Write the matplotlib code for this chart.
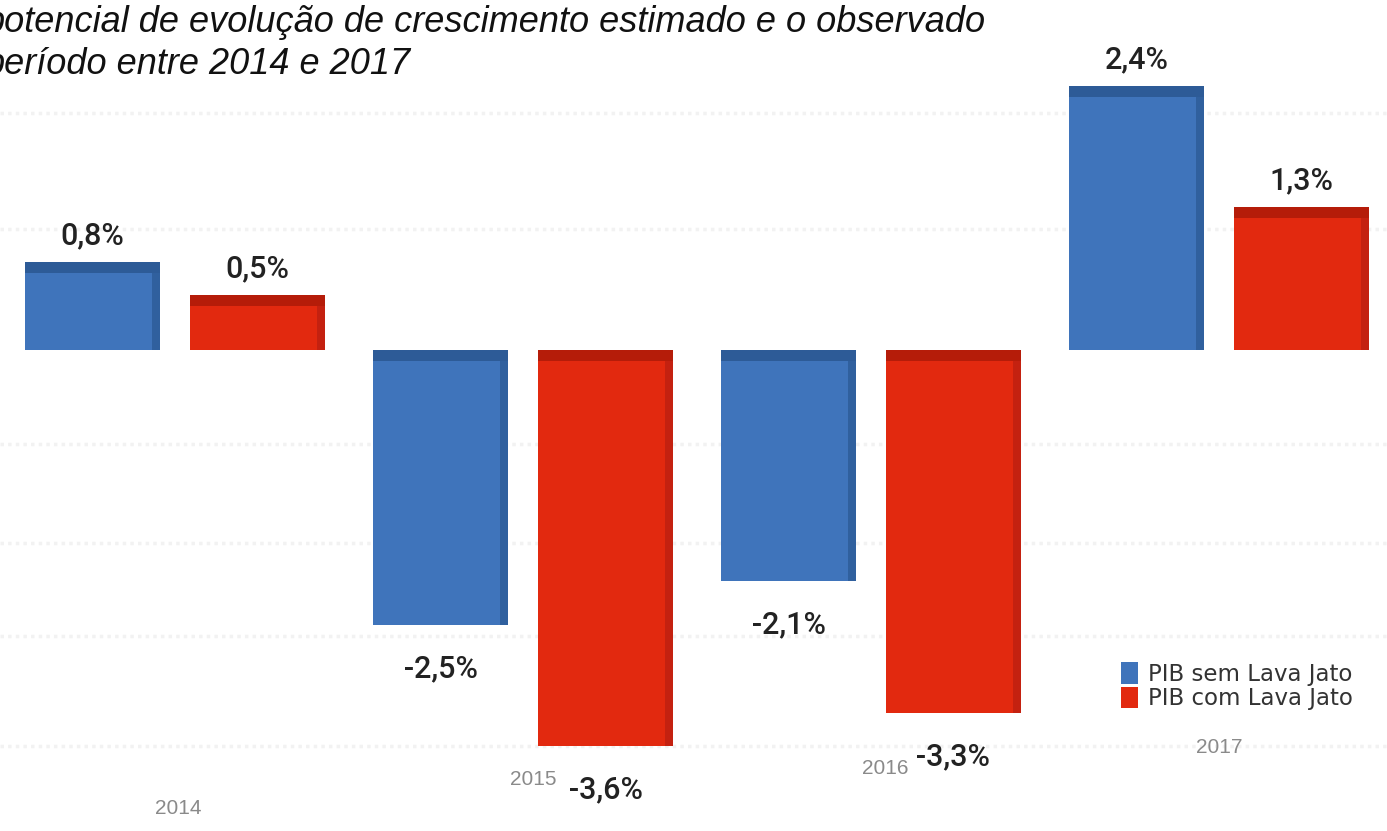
import matplotlib
matplotlib.use("Agg")
import matplotlib.pyplot as plt
from matplotlib.patches import Rectangle, Patch

# Data
years = ["2014", "2015", "2016", "2017"]
pib_sem = [0.8, -2.5, -2.1, 2.4]
pib_com = [0.5, -3.6, -3.3, 1.3]
labels_sem = ["0,8%", "-2,5%", "-2,1%", "2,4%"]
labels_com = ["0,5%", "-3,6%", "-3,3%", "1,3%"]
series_names = ["PIB sem Lava Jato", "PIB com Lava Jato"]
title_lines = ["potencial de evolução de crescimento estimado e o observado",
               "período entre 2014 e 2017"]

W, H, DPI = 1387, 831, 100
fig = plt.figure(figsize=(W / DPI, H / DPI), dpi=DPI)
fig.patch.set_facecolor("white")
ax = fig.add_axes([0, 0, 1, 1])

XMIN, XMAX = -0.503, 3.483
YMIN, YMAX = -4.37, 3.18
ax.set_xlim(XMIN, XMAX)
ax.set_ylim(YMIN, YMAX)
ax.axis("off")

# size of one pixel in data units
px_x = (XMAX - XMIN) / W
px_y = (YMAX - YMIN) / H

# faint dotted background guides
for gy in [2.15, 1.1, -0.85, -1.75, -2.6, -3.6]:
    ax.axhline(gy, color="#f2f2f2", lw=2.5, ls=(0, (1, 1.2)), zorder=0)

blue, blue_dark, blue_side = "#3f74bb", "#2d5b97", "#30609e"
red, red_dark, red_side = "#e2290f", "#b51c09", "#c42110"

width = 0.39
offset = 0.237


def bar3d(xc, v, face, top, side):
    x0 = xc - width / 2
    ax.add_patch(Rectangle((x0, 0), width, v, facecolor=face,
                           edgecolor="none", zorder=2))
    # right side face
    ax.add_patch(Rectangle((x0 + width - 8 * px_x, 0), 8 * px_x, v,
                           facecolor=side, edgecolor="none", zorder=2.2))
    # top face
    ytop = max(v, 0)
    ax.add_patch(Rectangle((x0, ytop - 11 * px_y), width, 11 * px_y,
                           facecolor=top, edgecolor="none", zorder=2.3))


for i in range(len(years)):
    bar3d(i - offset, pib_sem[i], blue, blue_dark, blue_side)
    bar3d(i + offset, pib_com[i], red, red_dark, red_side)

# value labels
for i in range(len(years)):
    for xc, v, lab in [(i - offset, pib_sem[i], labels_sem[i]),
                       (i + offset, pib_com[i], labels_com[i])]:
        dy = 26 if v > 0 else -44
        ax.annotate(lab, (xc, v), xytext=(0, dy), textcoords="offset pixels",
                    ha="center", va="center", fontsize=22,
                    fontfamily="Roboto", fontweight="medium",
                    color="#222222", zorder=5)

# year labels, staggered along the receding floor
year_y = [-4.17, -3.9, -3.8, -3.61]
year_dx = [0.01, 0.03, 0.04, 0.0]
for i, yr in enumerate(years):
    ax.text(i + year_dx[i], year_y[i], yr, ha="center",
            va="center", fontsize=15, fontfamily="Liberation Sans",
            color="#8a8a8a", zorder=5)

# title (left edge runs off the canvas)
for k, line in enumerate(title_lines):
    fig.text(-15 / W, 1 - (22 + 42 * k) / H, line, ha="left", va="center",
             fontsize=26, fontstyle="italic", fontfamily="Liberation Sans",
             color="#111111")

handles = [Patch(facecolor=blue, edgecolor="none"),
           Patch(facecolor=red, edgecolor="none")]
leg = fig.legend(handles, series_names, loc="upper left",
                 bbox_to_anchor=(1110 / W, 1 - 651 / H), frameon=False,
                 fontsize=16.5, handlelength=0.7, handleheight=1.05,
                 handletextpad=0.45, labelspacing=0.05, borderpad=0)
for t in leg.get_texts():
    t.set_color("#333333")
    t.set_fontfamily("DejaVu Sans")

fig.savefig("out.png", dpi=DPI)
